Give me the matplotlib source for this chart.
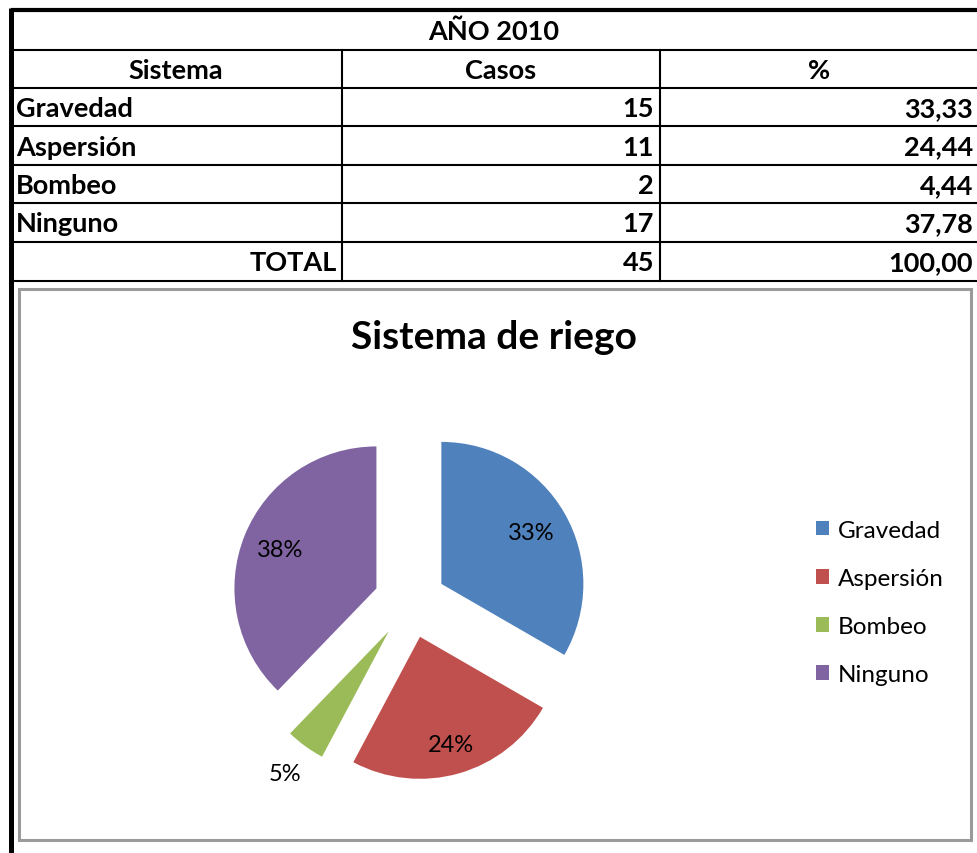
import matplotlib
matplotlib.use("Agg")
import matplotlib.pyplot as plt
from matplotlib.patches import Rectangle
import numpy as np

# data
year_title = "AÑO 2010"
headers = ["Sistema", "Casos", "%"]
sistemas = ["Gravedad", "Aspersión", "Bombeo", "Ninguno"]
casos = [15, 11, 2, 17]
porcentajes = ["33,33", "24,44", "4,44", "37,78"]
total_casos = 45
total_pct = "100,00"
pie_labels = ["33%", "24%", "5%", "38%"]
colors = ["#4F81BD", "#C0504D", "#9BBB59", "#8064A2"]

W, H = 977, 854
fig = plt.figure(figsize=(W / 100, H / 100), dpi=100)

# background axes in pixel units for the table
bg = fig.add_axes([0, 0, 1, 1])
bg.set_xlim(0, W)
bg.set_ylim(H, 0)
bg.axis("off")

font = "Lato"
row_edges = [11, 51, 89, 127, 166, 204, 243, 281.5]
col_edges = [10.5, 341.5, 660, W + 5]

# thick outer borders
bg.plot([10.5, W], [11, 11], color="black", lw=3.0, solid_capstyle="butt")
bg.plot([10.5, 10.5], [9, H], color="black", lw=3.6, solid_capstyle="butt")
# thin row lines
for y in row_edges[1:]:
    bg.plot([10.5, W], [y, y], color="black", lw=1.5)
for x in col_edges[1:3]:
    bg.plot([x, x], [row_edges[1], row_edges[-1]], color="black", lw=1.5)

def mid(a, b):
    return (a + b) / 2

tkw = dict(fontfamily=font, fontweight="bold", fontsize=19.5, va="center", color="black")
bg.text(mid(col_edges[0], W), mid(row_edges[0], row_edges[1]) + 1, year_title, ha="center", **tkw)
bg.text(mid(col_edges[0], col_edges[1]), mid(row_edges[1], row_edges[2]) + 1, headers[0], ha="center", **tkw)
bg.text(mid(col_edges[1], col_edges[2]), mid(row_edges[1], row_edges[2]) + 1, headers[1], ha="center", **tkw)
bg.text(819, mid(row_edges[1], row_edges[2]) + 1, headers[2], ha="center", **tkw)

for i, (s, c, p) in enumerate(zip(sistemas, casos, porcentajes)):
    yc = mid(row_edges[i + 2], row_edges[i + 3]) + 1
    bg.text(16, yc, s, ha="left", **tkw)
    bg.text(col_edges[2] - 6, yc, str(c), ha="right", **tkw)
    bg.text(973, yc, p, ha="right", **tkw)

yc = mid(row_edges[6], row_edges[7]) + 1
bg.text(col_edges[1] - 5, yc, "TOTAL", ha="right", **tkw)
bg.text(col_edges[2] - 6, yc, str(total_casos), ha="right", **tkw)
bg.text(973, yc, total_pct, ha="right", **tkw)

# chart frame
bg.add_patch(Rectangle((19, 289.5), 951.5, 552, fill=False, edgecolor="#9a9a9a", lw=2.2))
bg.text(494, 338, "Sistema de riego", ha="center", va="center",
        fontfamily=font, fontweight="bold", fontsize=28)

# pie axes: centre at (410, 603) px, radius 142 px
cx, cy, r_px, half = 410, 603, 142, 220
ax = fig.add_axes([(cx - half) / W, (H - cy - half) / H, 2 * half / W, 2 * half / H])
wedges, _ = ax.pie(casos, colors=colors, startangle=90, counterclock=False,
                   explode=[0.255] * 4, radius=1.0,
                   wedgeprops=dict(linewidth=0))
lim = half / r_px
ax.set_xlim(-lim, lim)
ax.set_ylim(-lim, lim)
ax.set_aspect("auto")
ax.axis("off")

label_dist = [0.73, 0.79, 1.24, 0.73]
for w, lab, d in zip(wedges, pie_labels, label_dist):
    ang = np.deg2rad((w.theta1 + w.theta2) / 2)
    x0, y0 = w.center
    ax.text(x0 + d * np.cos(ang), y0 + d * np.sin(ang), lab, ha="center", va="center",
            fontfamily=font, fontsize=17)

fig.legend(wedges, sistemas, loc="center left", bbox_to_anchor=(816 / W, (H - 603.5) / H),
           frameon=False, prop={"family": font, "size": 17.5},
           handlelength=0.55, handleheight=0.55, handletextpad=0.35,
           labelspacing=1.12, borderpad=0, borderaxespad=0)

fig.savefig("out.png", dpi=100)
